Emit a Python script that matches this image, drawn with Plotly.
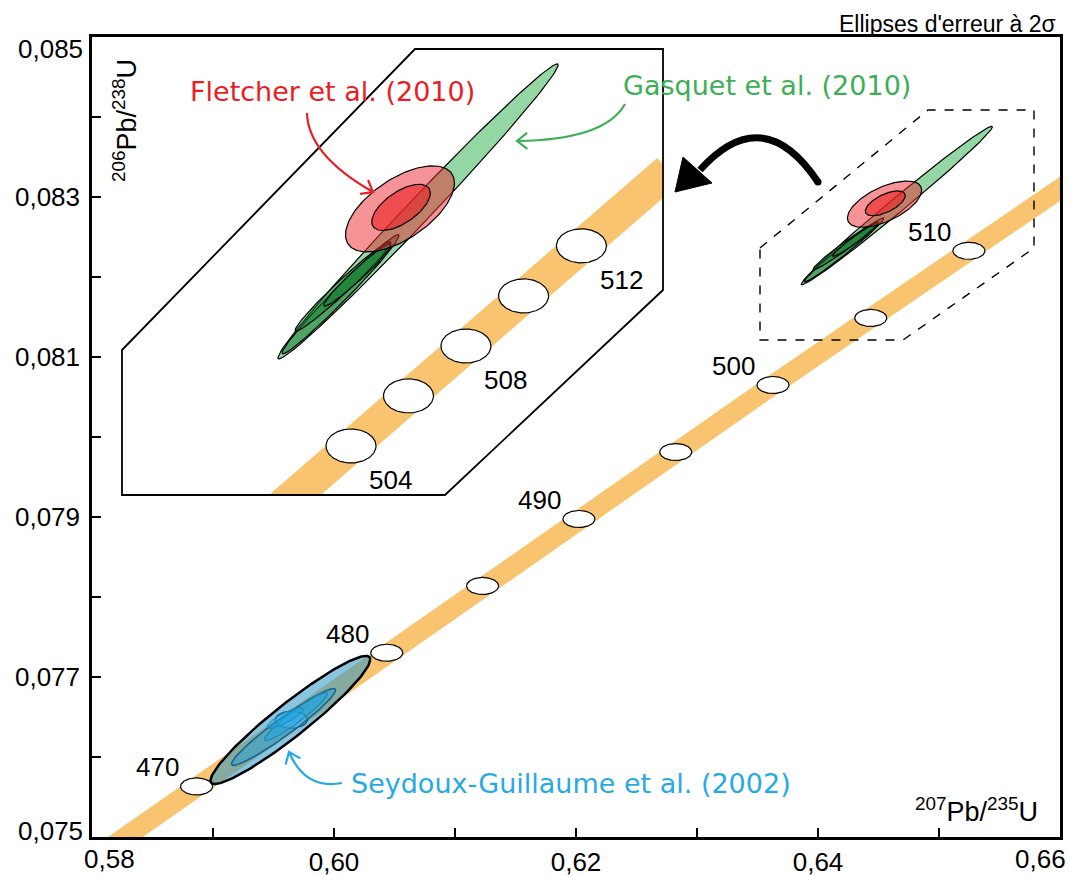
import numpy as np
import plotly.graph_objects as go

# ---------------- data ----------------
# Concordia curve points (age in Ma, 207Pb/235U, 206Pb/238U)
conc_age = [465, 470, 475, 480, 485, 490, 495, 500, 505, 510, 515]
conc_x = [0.58084, 0.58864, 0.59648, 0.60436, 0.61228, 0.62024, 0.62824, 0.63628, 0.64436, 0.65247, 0.66063]
conc_y = [0.074798, 0.075632, 0.076467, 0.077303, 0.078138, 0.078975, 0.079812, 0.080650, 0.081488, 0.082327, 0.083167]
marker_ages = [470, 475, 480, 485, 490, 495, 500, 505, 510]
label_ages = [470, 480, 490, 500, 510]

# Concordia in the enlarged inset
inset_age = [500, 504, 506, 508, 510, 512, 515]
inset_x = [0.63628, 0.64274, 0.64598, 0.64922, 0.65247, 0.65573, 0.66063]
inset_y = [0.080650, 0.081320, 0.081656, 0.081991, 0.082327, 0.082663, 0.083167]
inset_marker_ages = [504, 506, 508, 510, 512]
inset_label_ages = [504, 508, 512]

# Error ellipses (2 sigma): centre x, centre y, 2s x, 2s y, rho
seydoux_x = [0.59640, 0.59583, 0.59686, 0.59595]
seydoux_y = [0.076463, 0.076375, 0.076506, 0.076488]
seydoux_sx = [0.0066, 0.0043, 0.0026, 0.0015]
seydoux_sy = [0.00080, 0.00048, 0.00030, 0.00013]
seydoux_rho = [0.945, 0.96, 0.95, 0.85]

gasquet_x = [0.64652, 0.64215, 0.64229, 0.64310]
gasquet_y = [0.082894, 0.082338, 0.082391, 0.082468]
gasquet_sx = [0.0079, 0.0033, 0.0027, 0.0019]
gasquet_sy = [0.00099, 0.00040, 0.00030, 0.00021]
gasquet_rho = [0.993, 0.985, 0.98, 0.97]

fletcher_x = [0.64550, 0.64556]
fletcher_y = [0.082911, 0.082921]
fletcher_sx = [0.00307, 0.00165]
fletcher_sy = [0.000289, 0.000155]
fletcher_rho = [0.60, 0.62]

# axis ticks (edge labels are nudged inside the page like in the original)
x_tickvals = [0.60, 0.62, 0.64]
x_ticktext = ["0,60", "0,62", "0,64"]
x_edge_ticks = [(0.58, "0,58", 17), (0.66, "0,66", -20)]
y_tickvals = [0.077, 0.079, 0.081, 0.083]
y_ticktext = ["0,077", "0,079", "0,081", "0,083"]
y_edge_ticks = [(0.075, "0,075", 6), (0.085, "0,085", -12)]

# ---------------- layout constants ----------------
W, H = 1069, 876
ML, MR, MT, MB = 92, 9, 37, 39
PW, PH = W - ML - MR, H - MT - MB
X_RANGE = [0.58, 0.66]
Y_RANGE = [0.075, 0.085]
INSET_X_RANGE = [0.62983, 0.66033]
INSET_Y_RANGE = [0.080991, 0.083984]
INSET_PX = (122, 663, 49, 495)  # left, right, top, bottom in pixels

BAND = "#F9C46F"
FONT = "Liberation Sans, Arial, sans-serif"
HAND = "DejaVu Sans, sans-serif"


def px2p(px, py):
    return (px - ML) / PW, (H - MB - py) / PH


inset_dom_x = [px2p(INSET_PX[0], 0)[0], px2p(INSET_PX[1], 0)[0]]
inset_dom_y = [px2p(0, INSET_PX[3])[1], px2p(0, INSET_PX[2])[1]]

# data units per pixel
main_dx = (X_RANGE[1] - X_RANGE[0]) / PW
main_dy = (Y_RANGE[1] - Y_RANGE[0]) / PH
inset_dx = (INSET_X_RANGE[1] - INSET_X_RANGE[0]) / (INSET_PX[1] - INSET_PX[0])
inset_dy = (INSET_Y_RANGE[1] - INSET_Y_RANGE[0]) / (INSET_PX[3] - INSET_PX[2])

T = np.linspace(0, 2 * np.pi, 160)


def err_ellipse(cx, cy, sx, sy, rho):
    x = cx + sx * np.cos(T)
    y = cy + sy * (rho * np.cos(T) + np.sqrt(1 - rho ** 2) * np.sin(T))
    return x, y


fig = go.Figure()


def add_shape_trace(x, y, fill, lc, lw, xa="x", ya="y"):
    fig.add_trace(go.Scatter(x=x, y=y, mode="lines", fill="toself", fillcolor=fill,
                             line=dict(color=lc, width=lw), hoverinfo="skip",
                             showlegend=False, xaxis=xa, yaxis=ya))


def draw_panel(xa, ya, cx_list, cy_list, ages, m_ages, band_w, rx_px, ry_px, dx, dy, with_blue):
    fig.add_trace(go.Scatter(x=cx_list, y=cy_list, mode="lines",
                             line=dict(color=BAND, width=band_w), hoverinfo="skip",
                             showlegend=False, xaxis=xa, yaxis=ya))
    for a, cx, cy in zip(ages, cx_list, cy_list):
        if a in m_ages:
            add_shape_trace(cx + rx_px * dx * np.cos(T), cy + ry_px * dy * np.sin(T),
                            "white", "black", 1.2, xa, ya)
    if with_blue:
        fills = ["rgba(40,150,200,0.55)", "rgba(30,160,220,0.45)", "rgba(25,165,230,0.5)", "rgba(25,165,230,0.5)"]
        lcols = ["black", "#17658f", "#1d86b8", "#1d86b8"]
        lws = [2.5, 1.6, 1.2, 1.0]
        for i in range(len(seydoux_x)):
            x, y = err_ellipse(seydoux_x[i], seydoux_y[i], seydoux_sx[i], seydoux_sy[i], seydoux_rho[i])
            add_shape_trace(x, y, fills[i], lcols[i], lws[i], xa, ya)
    gfills = ["rgba(60,180,90,0.55)", "rgba(20,125,45,0.55)", "rgba(20,125,45,0.5)", "rgba(20,125,45,0.5)"]
    for i in range(len(gasquet_x)):
        x, y = err_ellipse(gasquet_x[i], gasquet_y[i], gasquet_sx[i], gasquet_sy[i], gasquet_rho[i])
        add_shape_trace(x, y, gfills[i], "black", 1.2, xa, ya)
    rfills = ["rgba(236,40,45,0.5)", "rgba(236,30,35,0.6)"]
    for i in range(len(fletcher_x)):
        x, y = err_ellipse(fletcher_x[i], fletcher_y[i], fletcher_sx[i], fletcher_sy[i], fletcher_rho[i])
        add_shape_trace(x, y, rfills[i], "black", 1.2, xa, ya)


draw_panel("x", "y", conc_x, conc_y, conc_age, marker_ages, 20, 16, 8.5, main_dx, main_dy, True)
draw_panel("x2", "y2", inset_x, inset_y, inset_age, inset_marker_ages, 34, 25, 17, inset_dx, inset_dy, False)

annotations = []
for a in label_ages:
    i = conc_age.index(a)
    annotations.append(dict(x=conc_x[i], y=conc_y[i], xref="x", yref="y", text=str(a), showarrow=False,
                            xshift=-39, yshift=19, font=dict(family=FONT, size=26, color="black")))
for a in inset_label_ages:
    i = inset_age.index(a)
    annotations.append(dict(x=inset_x[i], y=inset_y[i], xref="x2", yref="y2", text=str(a), showarrow=False,
                            xshift=40, yshift=-34, font=dict(family=FONT, size=26, color="black")))

# edge tick labels
for v, txt, sh in x_edge_ticks:
    annotations.append(dict(x=v, y=0, xref="x", yref="paper", text=txt, showarrow=False,
                            xanchor="center", yanchor="top", xshift=sh, yshift=-5,
                            font=dict(family=FONT, size=26, color="black")))
for v, txt, sh in y_edge_ticks:
    annotations.append(dict(x=0, y=v, xref="paper", yref="y", text=txt, showarrow=False,
                            xanchor="right", yanchor="middle", xshift=-7, yshift=sh,
                            font=dict(family=FONT, size=26, color="black")))


def ptext(px, py, text, size, color, family=FONT, xanchor="center", angle=0):
    x, y = px2p(px, py)
    annotations.append(dict(x=x, y=y, xref="paper", yref="paper", text=text, showarrow=False,
                            xanchor=xanchor, yanchor="middle", textangle=angle,
                            font=dict(family=family, size=size, color=color)))


ptext(1058, 24, "Ellipses d'erreur à 2σ", 23, "black", xanchor="right")
ptext(125, 121, "<sup>206</sup>Pb/<sup>238</sup>U", 27, "black", angle=-90)
ptext(976, 810, "<sup>207</sup>Pb/<sup>235</sup>U", 27, "black")
ptext(332, 92, "Fletcher et al. (2010)", 27, "#EC1C24", family=HAND)
ptext(767, 85, "Gasquet et al. (2010)", 27, "#3DAE55", family=HAND)
ptext(571, 783, "Seydoux-Guillaume et al. (2002)", 27, "#27AAE1", family=HAND)


# ---------------- decorations (paper coords) ----------------
def poly_path(pts, close=True):
    s = ""
    for k, (px, py) in enumerate(pts):
        x, y = px2p(px, py)
        s += ("M" if k == 0 else "L") + f"{x:.5f},{y:.5f} "
    return s + ("Z" if close else "")


def quad_path(p0, c, p1):
    a = px2p(*p0)
    b = px2p(*c)
    d = px2p(*p1)
    return f"M{a[0]:.5f},{a[1]:.5f} Q{b[0]:.5f},{b[1]:.5f} {d[0]:.5f},{d[1]:.5f}"


def head_pts(c, tip, length, spread):
    v = np.array(tip, float) - np.array(c, float)
    v /= np.linalg.norm(v)
    out = []
    for s in (spread, -spread):
        r = np.radians(s)
        rv = np.array([v[0] * np.cos(r) - v[1] * np.sin(r), v[0] * np.sin(r) + v[1] * np.cos(r)])
        out.append(tuple(np.array(tip) - rv * length))
    return out


shapes = []
# inset frame
shapes.append(dict(type="path", xref="paper", yref="paper", layer="above",
                   path=poly_path([(122, 350), (415, 49), (663, 49), (663, 290), (445, 495), (122, 495)]),
                   line=dict(color="black", width=1.8)))
# dashed zoom region
shapes.append(dict(type="path", xref="paper", yref="paper", layer="above",
                   path=poly_path([(760, 248), (928, 110), (1034, 110), (1034, 248), (903, 340), (760, 340)]),
                   line=dict(color="black", width=1.4, dash="dash")))

arrows = [
    ((307, 113), (308, 155), (373, 192), "#EC1C24"),
    ((625, 104), (605, 140), (517, 141), "#3DAE55"),
    ((342, 783), (305, 790), (289, 752), "#27AAE1"),
]
for p0, c, p1, col in arrows:
    shapes.append(dict(type="path", xref="paper", yref="paper", layer="above",
                       path=quad_path(p0, c, p1), line=dict(color=col, width=2.2)))
    h1, h2 = head_pts(c, p1, 13, 38)
    shapes.append(dict(type="path", xref="paper", yref="paper", layer="above",
                       path=poly_path([h1, p1, h2], close=False), line=dict(color=col, width=2.2)))

# black curved arrow
shapes.append(dict(type="path", xref="paper", yref="paper", layer="above",
                   path=quad_path((818, 182), (763, 100), (700, 170)), line=dict(color="black", width=7)))
shapes.append(dict(type="path", xref="paper", yref="paper", layer="above",
                   path=poly_path([(675, 192), (712, 183), (683, 157)]),
                   fillcolor="black", line=dict(color="black", width=1)))
cx0, cy0 = px2p(818, 182)
shapes.append(dict(type="circle", xref="paper", yref="paper", layer="above",
                   x0=cx0 - 3.5 / PW, x1=cx0 + 3.5 / PW, y0=cy0 - 3.5 / PH, y1=cy0 + 3.5 / PH,
                   fillcolor="black", line=dict(width=0)))

axis_common = dict(showgrid=False, zeroline=False, showline=True, linecolor="black", linewidth=2.5,
                   mirror=True, ticks="inside", ticklen=9, tickwidth=2, tickcolor="black",
                   automargin=False, tickfont=dict(family=FONT, size=26, color="black"))

fig.update_layout(
    width=W, height=H,
    margin=dict(l=ML, r=MR, t=MT, b=MB, pad=0, autoexpand=False),
    paper_bgcolor="white", plot_bgcolor="rgba(0,0,0,0)",
    showlegend=False,
    xaxis=dict(range=X_RANGE, tickvals=x_tickvals, ticktext=x_ticktext, domain=[0, 1],
               minor=dict(ticks="inside", ticklen=9, tickwidth=2, tickcolor="black", dtick=0.01, tick0=0.58),
               **axis_common),
    yaxis=dict(range=Y_RANGE, tickvals=y_tickvals, ticktext=y_ticktext, domain=[0, 1],
               ticklabelstandoff=4,
               minor=dict(ticks="inside", ticklen=9, tickwidth=2, tickcolor="black", dtick=0.001, tick0=0.075),
               **axis_common),
    xaxis2=dict(range=INSET_X_RANGE, domain=inset_dom_x, anchor="y2", visible=False, fixedrange=True),
    yaxis2=dict(range=INSET_Y_RANGE, domain=inset_dom_y, anchor="x2", visible=False, fixedrange=True),
    annotations=annotations,
    shapes=shapes,
)

fig.write_html("out.html", config={"displayModeBar": False},
               post_script="document.body.style.margin='0';document.body.style.overflow='hidden';")
